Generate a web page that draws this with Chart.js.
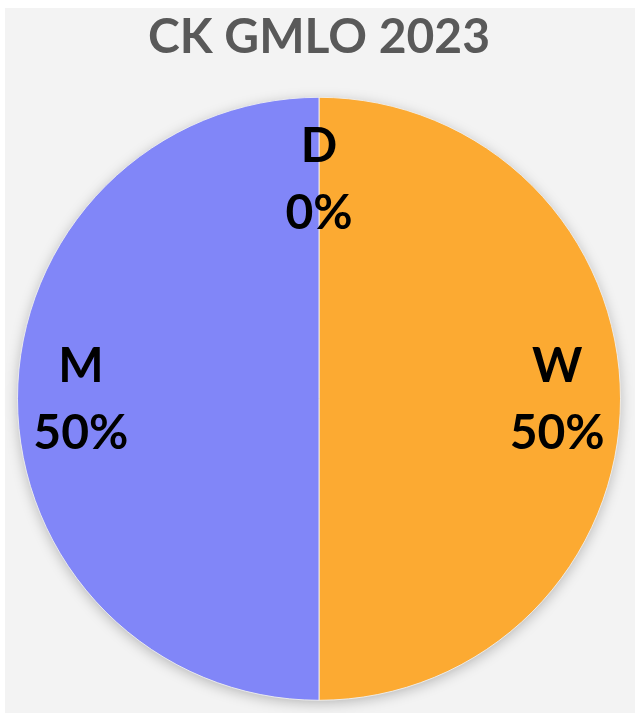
<!DOCTYPE html>
<html>
<head>
<meta charset="utf-8">
<script src="https://cdn.jsdelivr.net/npm/chart.js@4.4.0/dist/chart.umd.min.js"></script>
<style>
  html, body { margin: 0; padding: 0; background: #fff; }
  #wrap { width: 635px; height: 713px; }
</style>
</head>
<body>
<div id="wrap"><canvas id="myChart" width="635" height="713"></canvas></div>
<script>
const categories = ['W', 'M', 'D'];
const values = [50, 50, 0];
const sliceColors = ['rgb(252, 170, 50)', 'rgb(129, 134, 248)', 'rgb(190, 190, 190)'];
const labelRadius = [0.79, 0.79, 0.73];

// grey panel behind the chart, a white strip stays on top and left
const panelBg = {
  id: 'panelBg',
  beforeDraw(chart) {
    const c = chart.ctx;
    c.save();
    c.fillStyle = '#ffffff';
    c.fillRect(0, 0, chart.width, chart.height);
    c.fillStyle = '#f3f3f3';
    c.fillRect(5, 8, chart.width - 5, chart.height - 8);
    c.restore();
  }
};

// soft shadow under the whole pie
const pieShadow = {
  id: 'pieShadow',
  beforeDatasetsDraw(chart) {
    const arc = chart.getDatasetMeta(0).data[0];
    if (!arc) return;
    const c = chart.ctx;
    c.save();
    c.shadowColor = 'rgba(0,0,0,0.28)';
    c.shadowBlur = 14;
    c.shadowOffsetY = 3;
    c.fillStyle = '#f3f3f3';
    c.beginPath();
    c.arc(arc.x, arc.y, arc.outerRadius - 1, 0, Math.PI * 2);
    c.fill();
    c.restore();
  }
};

// category name + percent inside each slice
const sliceLabels = {
  id: 'sliceLabels',
  afterDatasetsDraw(chart) {
    const ds = chart.data.datasets[0];
    const total = ds.data.reduce((a, b) => a + b, 0);
    const c = chart.ctx;
    c.save();
    c.fillStyle = '#000';
    c.font = 'bold 48px Lato';
    c.textAlign = 'center';
    c.textBaseline = 'middle';
    chart.getDatasetMeta(0).data.forEach((arc, i) => {
      const mid = (arc.startAngle + arc.endAngle) / 2;
      const r = arc.outerRadius * labelRadius[i];
      const x = arc.x + Math.cos(mid) * r;
      const y = arc.y + Math.sin(mid) * r;
      const pct = Math.round(ds.data[i] / total * 100) + '%';
      c.fillText(chart.data.labels[i], x, y - 32);
      c.fillText(pct, x, y + 35);
    });
    c.restore();
  }
};

const ctx = document.getElementById('myChart');
const myChart = new Chart(ctx, {
  type: 'pie',
  data: {
    labels: categories,
    datasets: [{
      data: values,
      backgroundColor: sliceColors,
      borderColor: 'rgba(240,240,240,0.9)',
      borderWidth: 1
    }]
  },
  options: {
    responsive: false,
    animation: false,
    layout: { padding: { left: 17, right: 14, top: 0, bottom: 12 } },
    plugins: {
      legend: { display: false },
      tooltip: { enabled: false },
      title: {
        display: true,
        text: 'CK GMLO 2023',
        color: '#595959',
        font: { family: 'Lato', size: 48, weight: 'bold' },
        padding: { top: 9, bottom: 30 }
      }
    }
  },
  plugins: [panelBg, pieShadow, sliceLabels]
});
</script>
</body>
</html>
